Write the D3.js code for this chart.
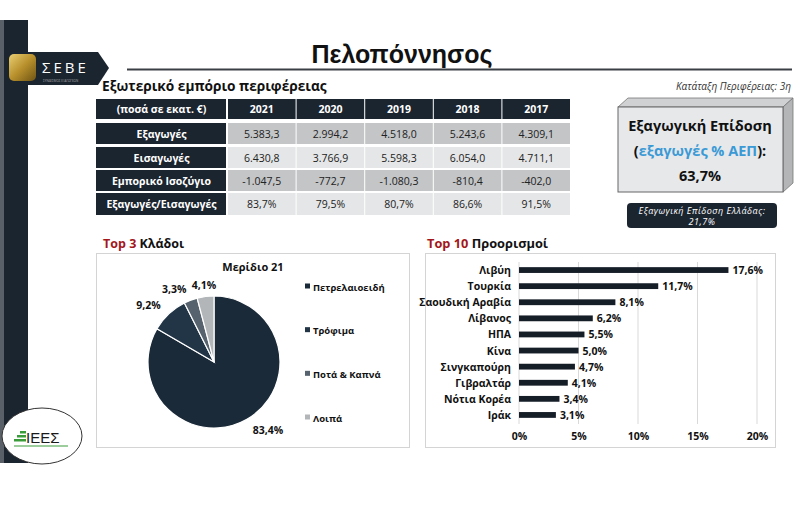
<!DOCTYPE html>
<html><head><meta charset="utf-8">
<script src="https://cdn.jsdelivr.net/npm/d3@7"></script>
<style>
html,body{margin:0;padding:0;background:#fff;}
svg{display:block;font-family:"Open Sans","DejaVu Sans",sans-serif;}
</style></head>
<body><svg id="c" width="800" height="505"></svg>
<script>
// ---------------- data ----------------
const years = ["2021","2020","2019","2018","2017"];
const rowLabels = ["Εξαγωγές","Εισαγωγές","Εμπορικό Ισοζύγιο","Εξαγωγές/Εισαγωγές"];
const exportsV = [5383.3, 2994.2, 4518.0, 5243.6, 4309.1];
const importsV = [6430.8, 3766.9, 5598.3, 6054.0, 4711.1];
const balanceV = [-1047.5, -772.7, -1080.3, -810.4, -402.0];
const ratioV = [83.7, 79.5, 80.7, 86.6, 91.5];

const sectors = ["Πετρελαιοειδή","Τρόφιμα","Ποτά & Καπνά","Λοιπά"];
const sectorShares = [83.4, 9.2, 3.3, 4.1];

const countries = ["Λιβύη","Τουρκία","Σαουδική Αραβία","Λίβανος","ΗΠΑ","Κίνα","Σινγκαπούρη","Γιβραλτάρ","Νότια Κορέα","Ιράκ"];
const destShares = [17.6, 11.7, 8.1, 6.2, 5.5, 5.0, 4.7, 4.1, 3.4, 3.1];
const xTicks = [0, 5, 10, 15, 20];

const exportPerf = 63.7;
const greecePerf = 21.7;
const rank = "3η";

// ---------------- setup ----------------
const loc = d3.formatLocale({decimal:",", thousands:".", grouping:[3], currency:["","€"], minus:"-"});
const fNum = loc.format(",.1f");
const fPct = v => loc.format(".1f")(v) + "%";
const svg = d3.select("#c");
const navy = "#1b2530";

// left strip
svg.append("rect").attr("x",0).attr("y",20).attr("width",4).attr("height",443).attr("fill","#5a6068");
svg.append("rect").attr("x",4).attr("y",20).attr("width",24).attr("height",443).attr("fill",navy);

// SEBE banner
svg.append("path").attr("d","M6,52 L98,52 L109,68 L98,85 L6,85 Z").attr("fill",navy);
const gold = svg.append("defs").append("linearGradient").attr("id","gold").attr("x1",0).attr("y1",0).attr("x2",1).attr("y2",1);
gold.append("stop").attr("offset",0).attr("stop-color","#e9cf73");
gold.append("stop").attr("offset",0.5).attr("stop-color","#b8902c");
gold.append("stop").attr("offset",1).attr("stop-color","#6e5414");
svg.append("rect").attr("x",9).attr("y",54).attr("width",27).attr("height",27).attr("rx",5).attr("fill","url(#gold)");
svg.append("text").attr("x",42).attr("y",73).attr("fill","#fff").attr("font-size",15).attr("letter-spacing",3).text("ΣΕΒΕ");
svg.append("text").attr("x",43).attr("y",82).attr("fill","#aaa").attr("font-size",3).text("ΣΥΝΔΕΣΜΟΣ ΕΞΑΓΩΓΕΩΝ");

// title
svg.append("text").attr("x",402).attr("y",63).attr("text-anchor","middle").attr("font-size",25).attr("font-weight",700)
  .attr("font-family","'Liberation Sans',sans-serif").attr("fill","#111").text("Πελοπόννησος");
svg.append("line").attr("x1",127).attr("x2",792).attr("y1",69.5).attr("y2",69.5).attr("stroke","#3a3f45").attr("stroke-width",2);

// section header
svg.append("text").attr("x",102).attr("y",91).attr("font-size",13.7).attr("font-weight",700).attr("fill","#111").text("Εξωτερικό εμπόριο περιφέρειας");
svg.append("text").attr("x",791).attr("y",90).attr("text-anchor","end").attr("font-size",10).attr("font-style","italic").attr("fill","#333")
  .text("Κατάταξη Περιφέρειας: " + rank);

// ---------------- table ----------------
const labelW = 131;
const xs = [96, 96+labelW];
const yearW = (570 - 96 - labelW) / years.length;
years.forEach((y,i)=>xs.push(96+labelW+(i+1)*yearW));
const rowsY = [99, 123, 147, 170, 193];
const rowH = [20, 21, 21, 21, 22];
const tableRows = [
  years,
  exportsV.map(fNum),
  importsV.map(fNum),
  balanceV.map(fNum),
  ratioV.map(fPct)
];
const grayFill = ["#c3c5c7","#e5e6e7","#c3c5c7","#e5e6e7"];
const head = ["(ποσά σε εκατ. €)"].concat(rowLabels);
head.forEach((h,r)=>{
  svg.append("rect").attr("x",xs[0]).attr("y",rowsY[r]).attr("width",labelW-1).attr("height",rowH[r]).attr("fill",navy);
  svg.append("text").attr("x",xs[0]+labelW/2).attr("y",rowsY[r]+rowH[r]/2+4).attr("text-anchor","middle")
    .attr("font-size",10.5).attr("font-weight",700).attr("fill","#fff").text(h);
});
tableRows.forEach((row,r)=>{
  row.forEach((v,c)=>{
    const x0 = xs[c+1]+1, w = yearW-1;
    svg.append("rect").attr("x",x0).attr("y",rowsY[r]).attr("width",w).attr("height",rowH[r])
      .attr("fill", r===0 ? navy : grayFill[r-1]);
    svg.append("text").attr("x",x0+w/2).attr("y",rowsY[r]+rowH[r]/2+4).attr("text-anchor","middle")
      .attr("font-size",10.5).attr("font-weight", r===0?700:400).attr("fill", r===0?"#fff":"#222").text(v);
  });
});

// ---------------- 3D box ----------------
svg.append("path").attr("d","M618,107 L628,98 L793,98 L783,107 Z").attr("fill","#cfd1d3").attr("stroke","#777").attr("stroke-width",0.8);
svg.append("path").attr("d","M783,107 L793,98 L793,183 L783,192 Z").attr("fill","#b3b5b7").attr("stroke","#777").attr("stroke-width",0.8);
svg.append("rect").attr("x",618).attr("y",107).attr("width",165).attr("height",85).attr("fill","#e6e8ea").attr("stroke","#666").attr("stroke-width",1);
svg.append("text").attr("x",700).attr("y",131).attr("text-anchor","middle").attr("font-size",14.5).attr("font-weight",700).attr("fill","#111").text("Εξαγωγική Επίδοση");
const t2 = svg.append("text").attr("x",700).attr("y",156).attr("text-anchor","middle").attr("font-size",14.5).attr("font-weight",700).attr("fill","#111");
t2.append("tspan").text("(");
t2.append("tspan").attr("fill","#3b9ad6").text("εξαγωγές % ΑΕΠ");
t2.append("tspan").text("):");
svg.append("text").attr("x",700).attr("y",181).attr("text-anchor","middle").attr("font-size",14.5).attr("font-weight",700).attr("fill","#111").text(fPct(exportPerf));

svg.append("rect").attr("x",627).attr("y",203).attr("width",150).attr("height",25).attr("rx",4).attr("fill",navy);
svg.append("text").attr("x",702).attr("y",213.5).attr("text-anchor","middle").attr("font-size",9).attr("letter-spacing",0.5).attr("font-style","italic").attr("fill","#fff").text("Εξαγωγική Επίδοση Ελλάδας:");
svg.append("text").attr("x",702).attr("y",225).attr("text-anchor","middle").attr("font-size",9).attr("letter-spacing",0.5).attr("font-style","italic").attr("fill","#fff").text(fPct(greecePerf));

// ---------------- panels ----------------
function heading(x, red, black, fs){
  const t = svg.append("text").attr("x",x).attr("y",248).attr("font-size",fs).attr("font-weight",700);
  t.append("tspan").attr("fill","#a3161a").text(red);
  t.append("tspan").attr("fill","#111").text(" " + black);
}
heading(103, "Top 3", "Κλάδοι", 12.5);
heading(427, "Top 10", "Προορισμοί", 12.8);
svg.append("rect").attr("x",96.5).attr("y",253.5).attr("width",313).attr("height",194).attr("fill","#fff").attr("stroke","#d4d4d4");
svg.append("rect").attr("x",425.5).attr("y",253.5).attr("width",350).attr("height",194).attr("fill","#fff").attr("stroke","#d4d4d4");

// ---------------- pie ----------------
const cx = 214, cy = 362, R = 66;
const pieColors = d3.scaleOrdinal().domain(sectors).range(["#1b2a39","#213547","#56636f","#b3b6b9"]);
const pieData = d3.pie().sort(null).value(d=>d.v)(sectors.map((s,i)=>({s, v:sectorShares[i]})));
const arc = d3.arc().innerRadius(0).outerRadius(R);
const g = svg.append("g").attr("transform",`translate(${cx},${cy})`);
g.selectAll("path").data(pieData).join("path").attr("d",arc).attr("fill",d=>pieColors(d.data.s))
  .attr("stroke","#fff").attr("stroke-width",1.2);
const lab = d3.arc().innerRadius(R+12).outerRadius(R+12);
g.selectAll("text.pl").data(pieData).join("text").attr("class","pl")
  .each(function(d){
    const [x,y] = lab.centroid(d);
    const a = (d.startAngle+d.endAngle)/2;
    const s = Math.sin(a);
    const anchor = Math.abs(s) < 0.2 ? "middle" : (s < 0 ? "end" : "start");
    d3.select(this).attr("x",x).attr("y",y+4).attr("text-anchor",anchor);
  })
  .attr("font-size",10.5).attr("font-weight",700).attr("fill","#111").text(d=>fPct(d.data.v));
svg.append("text").attr("x",253).attr("y",271).attr("text-anchor","middle").attr("font-size",11).attr("font-weight",700).attr("fill","#111").text("Μερίδιο 21");
const legY = d3.scalePoint().domain(sectors).range([287, 418]);
sectors.forEach(s=>{
  svg.append("rect").attr("x",305).attr("y",legY(s)-3.5).attr("width",5).attr("height",5).attr("fill",pieColors(s));
  svg.append("text").attr("x",313).attr("y",legY(s)+3.5).attr("font-size",9.5).attr("font-weight",700).attr("fill","#111").text(s);
});

// ---------------- bars ----------------
const x = d3.scaleLinear().domain([0,20]).range([519,757]);
const y = d3.scaleBand().domain(countries).range([262,423]).paddingInner(0.64).paddingOuter(0.32);
svg.append("g").selectAll("line").data(xTicks).join("line")
  .attr("x1",d=>x(d)).attr("x2",d=>x(d)).attr("y1",262).attr("y2",424).attr("stroke","#d9d9d9");
svg.append("g").selectAll("rect").data(countries).join("rect")
  .attr("x",x(0)).attr("y",d=>y(d)).attr("height",y.bandwidth()).attr("width",(d,i)=>x(destShares[i])-x(0)).attr("fill","#151d27");
svg.append("g").selectAll("text").data(countries).join("text")
  .attr("x",x(0)-8).attr("y",d=>y(d)+y.bandwidth()/2+4).attr("text-anchor","end")
  .attr("font-size",10.5).attr("font-weight",700).attr("fill","#111").text(d=>d);
svg.append("g").selectAll("text").data(countries).join("text")
  .attr("x",(d,i)=>x(destShares[i])+4).attr("y",d=>y(d)+y.bandwidth()/2+4)
  .attr("font-size",10.5).attr("font-weight",700).attr("fill","#111").text((d,i)=>fPct(destShares[i]));
const ax = svg.append("g").attr("transform","translate(0,424)").call(d3.axisBottom(x).tickValues(xTicks).tickSize(0).tickPadding(9).tickFormat(d=>d+"%"));
ax.select(".domain").remove();
ax.selectAll("text").attr("font-size",10.5).attr("font-weight",700).attr("fill","#111").attr("font-family","'Open Sans',sans-serif");

// ---------------- IEES logo ----------------
svg.append("ellipse").attr("cx",42).attr("cy",436).attr("rx",40).attr("ry",28).attr("fill","#fff").attr("stroke","#333").attr("stroke-width",1);
[0,1,2].forEach(i=>{
  svg.append("rect").attr("x",14+ (2-i)*3).attr("y",431+i*4).attr("width",12-(2-i)*3).attr("height",2.5).attr("fill","#3a9b3a");
});
svg.append("text").attr("x",26).attr("y",443).attr("font-size",15).attr("fill","#1a1a1a").attr("font-family","'Liberation Sans',sans-serif").text("ΙΕΕΣ");
svg.append("line").attr("x1",14).attr("x2",68).attr("y1",446).attr("y2",446).attr("stroke","#3a9b3a").attr("stroke-width",1);
</script></body></html>
